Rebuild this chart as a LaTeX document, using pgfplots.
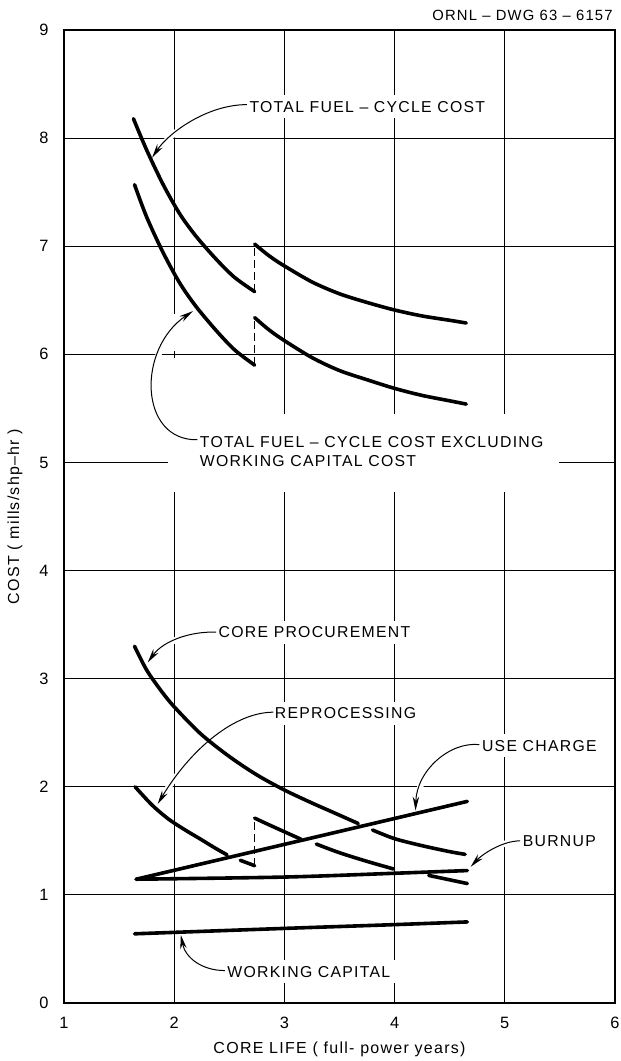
\documentclass[border=0pt]{standalone}
\usepackage{pgfplots}
\pgfplotsset{compat=1.18}
\usepackage{fontspec}
\setmainfont{Liberation Sans}
\newfontfamily\lett[LetterSpace=8]{Liberation Sans}
\usetikzlibrary{arrows.meta}
\newcommand\lfont{\lett\fontsize{7.9}{9.5}\selectfont}
\tikzset{
  curve/.style={black, line width=1.8pt, line cap=round, line join=round, smooth, mark=none},
  jump/.style={black, line width=0.7pt, dash pattern=on 4pt off 2pt, mark=none},
  lab/.style={font=\lfont, fill=white, inner xsep=4pt, inner ysep=3pt, anchor=west, xshift=-4pt},
  arr/.style={line width=0.5pt, -{Stealth[length=7pt,width=3.2pt]}, preaction={draw=white, line width=3pt, -}},
}
\begin{document}
\begin{tikzpicture}
\useasboundingbox (-32pt,-29pt) rectangle (278.5pt,501.5pt);
\begin{axis}[
  name=ax, at={(0,0)}, anchor=south west,
  scale only axis, width=275.5pt, height=486.5pt,
  xmin=1, xmax=6, ymin=0, ymax=9,
  xtick={1,...,6}, ytick={0,...,9},
  grid=major, major grid style={black, line width=0.55pt},
  major tick length=0pt,
  axis line style={black, line width=0.65pt},
  /pgf/number format/assume math mode=true,
  ticklabel style={font=\lett\fontsize{8.2}{9.6}\selectfont},
  yticklabel style={anchor=center, xshift=-10pt},
  xticklabel style={anchor=center, yshift=-10pt},
  xlabel={CORE LIFE ( full- power years)},
  ylabel={COST ( mills/shp–hr )},
  label style={font=\lett\fontsize{8}{9.6}\selectfont},
  xlabel style={at={(axis description cs:0.5,-0.048)}, anchor=center},
  ylabel style={at={(axis description cs:-0.089,0.5)}, anchor=center},
]
% white gaps in grid around labels
\fill[white] (axis cs:1.94,4.73) rectangle (axis cs:5.49,5.45);
\fill[white] (axis cs:1.95,5.45) rectangle (axis cs:2.05,5.97);
\fill[white] (axis cs:1.95,6.03) rectangle (axis cs:2.05,6.37);
\node[font=\lfont, align=left, anchor=west, inner sep=0pt] at (axis cs:2.23,5.10)
  {TOTAL FUEL – CYCLE COST EXCLUDING\\WORKING CAPITAL COST};
\draw[arr] (axis cs:2.21,5.21) .. controls (axis cs:1.68,5.20) and (axis cs:1.66,6.05) .. (axis cs:2.17,6.40);

\node[lab] at (axis cs:2.68,8.29) {TOTAL FUEL – CYCLE COST};
\draw[arr] (axis cs:2.66,8.31) .. controls (axis cs:2.30,8.31) and (axis cs:1.95,8.05) .. (axis cs:1.80,7.82);

\node[lab] at (axis cs:2.40,3.43) {CORE PROCUREMENT};
\draw[arr] (axis cs:2.38,3.43) .. controls (axis cs:2.15,3.44) and (axis cs:1.90,3.35) .. (axis cs:1.76,3.15);

\node[lab] at (axis cs:2.91,2.68) {REPROCESSING};
\draw[arr] (axis cs:2.90,2.69) .. controls (axis cs:2.55,2.69) and (axis cs:2.15,2.35) .. (axis cs:1.85,1.84);

\node[lab] at (axis cs:4.79,2.38) {USE CHARGE};
\draw[arr] (axis cs:4.77,2.39) .. controls (axis cs:4.50,2.42) and (axis cs:4.20,2.15) .. (axis cs:4.19,1.78);

\node[lab] at (axis cs:5.16,1.50) {BURNUP};
\draw[arr] (axis cs:5.14,1.50) .. controls (axis cs:4.98,1.50) and (axis cs:4.80,1.38) .. (axis cs:4.69,1.26);

\node[lab] at (axis cs:2.48,0.29) {WORKING CAPITAL};
\draw[arr] (axis cs:2.46,0.30) .. controls (axis cs:2.25,0.30) and (axis cs:2.10,0.42) .. (axis cs:2.06,0.63);

% total fuel-cycle cost
\addplot[curve] coordinates {(1.63,8.18) (1.75,7.89) (1.90,7.57) (2.05,7.30) (2.20,7.09) (2.39,6.87) (2.55,6.71) (2.73,6.58)};
\addplot[jump] coordinates {(2.73,6.58) (2.73,7.02)};
\addplot[curve] coordinates {(2.73,7.02) (2.85,6.92) (2.98,6.83) (3.25,6.67) (3.50,6.56) (3.75,6.48) (4.00,6.41) (4.25,6.355) (4.50,6.315) (4.65,6.29)};
% excluding working capital
\addplot[curve] coordinates {(1.64,7.57) (1.75,7.27) (1.90,6.94) (2.05,6.66) (2.20,6.44) (2.39,6.21) (2.55,6.04) (2.73,5.90)};
\addplot[jump] coordinates {(2.73,5.90) (2.73,6.34)};
\addplot[curve] coordinates {(2.73,6.34) (2.85,6.235) (2.98,6.14) (3.25,5.97) (3.50,5.85) (3.75,5.765) (4.00,5.685) (4.25,5.62) (4.50,5.57) (4.65,5.54)};
% core procurement
\addplot[curve] coordinates {(1.64,3.30) (1.75,3.08) (1.88,2.89) (2.00,2.74) (2.24,2.49) (2.50,2.28) (2.75,2.11) (3.00,1.97) (3.25,1.85) (3.45,1.76) (3.67,1.66)};
\addplot[curve] coordinates {(3.80,1.60) (4.00,1.52) (4.25,1.455) (4.50,1.40) (4.64,1.375)};
% reprocessing
\addplot[curve] coordinates {(1.645,2.00) (1.80,1.83) (1.95,1.70) (2.10,1.60) (2.24,1.515) (2.36,1.44) (2.48,1.37)};
\addplot[curve] coordinates {(2.60,1.32) (2.73,1.27)};
\addplot[jump] coordinates {(2.73,1.27) (2.73,1.71)};
\addplot[curve] coordinates {(2.73,1.71) (2.90,1.63) (3.15,1.515)};
\addplot[curve] coordinates {(3.29,1.47) (3.50,1.39) (3.75,1.31) (3.99,1.24)};
\addplot[curve] coordinates {(4.31,1.18) (4.66,1.105)};
% use charge
\addplot[curve] coordinates {(1.655,1.145) (4.66,1.865)};
% burnup
\addplot[curve] coordinates {(1.655,1.145) (3.00,1.165) (4.00,1.20) (4.66,1.225)};
% working capital
\addplot[curve] coordinates {(1.64,0.64) (3.00,0.69) (4.00,0.725) (4.66,0.75)};
\end{axis}
\node[anchor=east, font=\lett\fontsize{7.4}{9}\selectfont, inner sep=0pt] at ([xshift=-1pt,yshift=7.5pt]ax.north east) {ORNL – DWG 63 – 6157};
\end{tikzpicture}
\end{document}
